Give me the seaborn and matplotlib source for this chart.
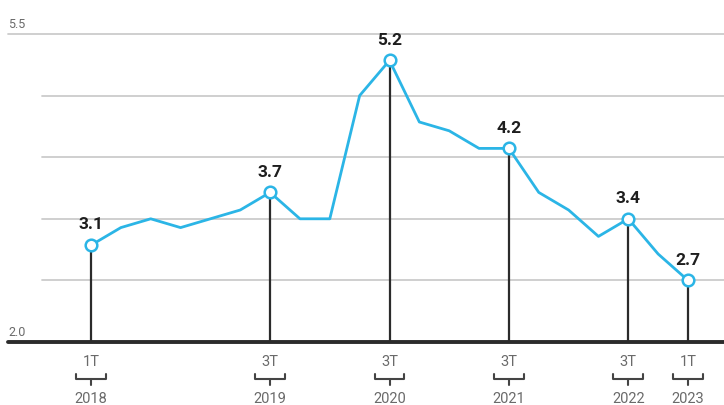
import matplotlib
matplotlib.use("Agg")
import matplotlib.pyplot as plt
import seaborn as sns
import pandas as pd

# quarterly values, 1T 2018 .. 1T 2023
values = [3.1, 3.3, 3.4, 3.3, 3.4, 3.5, 3.7, 3.4, 3.4, 4.8, 5.2,
          4.5, 4.4, 4.2, 4.2, 3.7, 3.5, 3.2, 3.4, 3.0, 2.7]
highlight_idx = [0, 6, 10, 14, 18, 20]
quarter_labels = ["1T", "3T", "3T", "3T", "3T", "1T"]
year_labels = ["2018", "2019", "2020", "2021", "2022", "2023"]
grid_levels = [2.7, 3.4, 4.1, 4.8]

df = pd.DataFrame({"q": range(len(values)), "v": values})

sns.set_style("white")
plt.rcParams["font.family"] = ["Roboto", "DejaVu Sans"]

fig = plt.figure(figsize=(7.24, 4.06), dpi=100)
ax = fig.add_axes([8 / 724, 63 / 406, 716 / 724, 308 / 406])

blue = "#2bb5e6"
dark = "#2b2b2b"
gray_txt = "#6a6a6a"

# grid lines
for g in grid_levels:
    ax.axhline(g, xmin=(42 - 8) / 716, xmax=1, color="#cccccc", lw=1.3, zorder=0)
ax.axhline(5.5, color="#cccccc", lw=1.3, zorder=0, clip_on=False)
ax.axhline(2.0, color=dark, lw=2.8, zorder=1, clip_on=False)

# stems
for i in highlight_idx:
    ax.plot([i, i], [2.0, values[i]], color=dark, lw=1.6, zorder=2)

sns.lineplot(data=df, x="q", y="v", color=blue, lw=2, ax=ax, zorder=3)

hy = [values[i] for i in highlight_idx]
ax.scatter(highlight_idx, hy, s=70, facecolor="white", edgecolor=blue,
           linewidth=1.8, zorder=4)

for i in highlight_idx:
    ax.annotate(f"{values[i]:.1f}", (i, values[i]), xytext=(0, 10),
                textcoords="offset points", ha="center", va="bottom",
                fontsize=12.5, fontweight="bold", color="#1e1e1e")

# axis value labels
ax.text(0.0, 5.5 + 0.04, "5.5", transform=ax.get_yaxis_transform(),
        ha="left", va="bottom", fontsize=9, color=gray_txt)
ax.text(0.0, 2.0 + 0.04, "2.0", transform=ax.get_yaxis_transform(),
        ha="left", va="bottom", fontsize=9, color=gray_txt)

# quarter / year labels with brackets
tr = ax.get_xaxis_transform()
for i, ql, yl in zip(highlight_idx, quarter_labels, year_labels):
    ax.text(i, -0.062, ql, transform=tr, ha="center", va="center",
            fontsize=10.5, color=gray_txt, clip_on=False)
    ax.text(i, -0.182, yl, transform=tr, ha="center", va="center",
            fontsize=10.5, color=gray_txt, clip_on=False)
    w = 0.5
    ax.plot([i - w, i - w, i + w, i + w], [-0.104, -0.120, -0.120, -0.104],
            transform=tr, color="#444444", lw=1.5, clip_on=False)
    ax.plot([i, i], [-0.120, -0.140], transform=tr, color="#444444",
            lw=1.5, clip_on=False)

ax.set_xlim(-83 / 29.85, 20 + 36 / 29.85)
ax.set_ylim(2.0, 5.5)
ax.set_xticks([])
ax.set_yticks([])
ax.set_xlabel("")
ax.set_ylabel("")
sns.despine(ax=ax, left=True, bottom=True)

fig.savefig("out.png", dpi=100)
